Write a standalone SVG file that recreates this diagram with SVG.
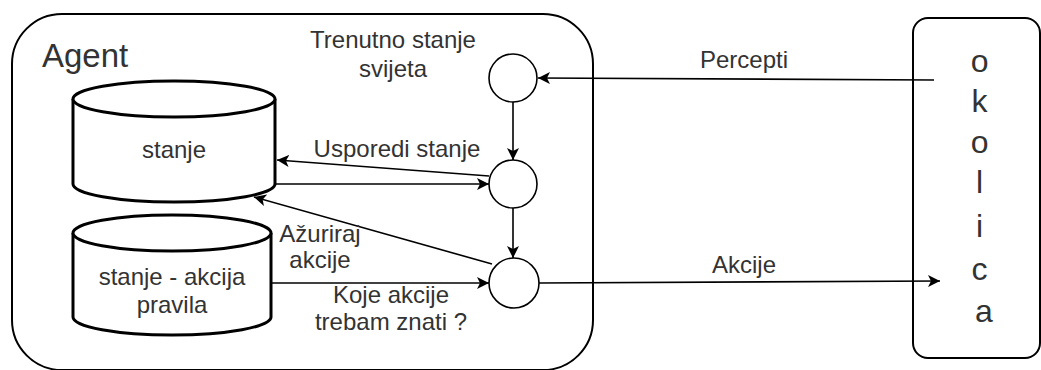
<svg xmlns="http://www.w3.org/2000/svg" width="1041" height="370" viewBox="0 0 1041 370">
<style>
.box{fill:#fff;stroke:#000;stroke-width:2}
.cyl{fill:#fff;stroke:#000;stroke-width:3}
.circ{fill:#fff;stroke:#000;stroke-width:1.6}
.edge{fill:none;stroke:#000;stroke-width:1.6}
.t{font-family:"Liberation Sans",Arial,sans-serif;fill:#333;font-size:24px;text-anchor:middle}
</style>
<defs>
<marker id="ah" markerUnits="userSpaceOnUse" markerWidth="14" markerHeight="12" refX="12" refY="6" orient="auto">
<path d="M0,0 L12,6 L0,12 L3,6 Z" fill="#000"/>
</marker>
</defs>
<rect width="1041" height="370" fill="#fff"/>
<g id="agent">
<rect class="box" x="12" y="14" width="581" height="356" rx="50" ry="50"/>
<text class="t" x="42" y="67" style="font-size:33px;text-anchor:start">Agent</text>
</g>
<g id="okolica">
<rect class="box" x="913" y="18" width="127" height="340" rx="15" ry="15"/>
<text class="t" style="font-size:32px">
<tspan x="984" y="72">o</tspan>
<tspan x="984" y="112">k</tspan>
<tspan x="984" y="153">o</tspan>
<tspan x="984" y="193">l</tspan>
<tspan x="984" y="237">i</tspan>
<tspan x="984" y="280">c</tspan>
<tspan x="984" y="322">a</tspan>
</text>
</g>
<g id="stanje">
<path class="cyl" d="M73,99 A101,18 0 0 1 275,99 L275,184 A101,18 0 0 1 73,184 Z"/>
<path class="cyl" d="M73,99 A101,18 0 0 0 275,99"/>
<text class="t" x="174" y="158">stanje</text>
</g>
<g id="pravila">
<path class="cyl" d="M73,233 A99,18 0 0 1 271,233 L271,317 A99,18 0 0 1 73,317 Z"/>
<path class="cyl" d="M73,233 A99,18 0 0 0 271,233"/>
<text class="t" x="172" y="285">stanje - akcija</text>
<text class="t" x="172" y="313">pravila</text>
</g>
<g id="c1">
<circle class="circ" cx="513" cy="78" r="24"/>
</g>
<g id="c2">
<circle class="circ" cx="513" cy="184" r="24"/>
</g>
<g id="c3">
<circle class="circ" cx="514" cy="283" r="25"/>
</g>
<g id="connectors">
<path class="edge" d="M934,80 L538,78" marker-end="url(#ah)"/>
<path class="edge" d="M513,102 L513,160" marker-end="url(#ah)"/>
<path class="edge" d="M489,176 L277,160" marker-end="url(#ah)"/>
<path class="edge" d="M275,184 L489,184" marker-end="url(#ah)"/>
<path class="edge" d="M513,208 L513,258" marker-end="url(#ah)"/>
<path class="edge" d="M492,264 L254,197" marker-end="url(#ah)"/>
<path class="edge" d="M271,283 L489,283" marker-end="url(#ah)"/>
<path class="edge" d="M539,283 L940,281" marker-end="url(#ah)"/>
</g>
<g id="labels">
<text class="t" x="393" y="48">Trenutno stanje</text>
<text class="t" x="393" y="77">svijeta</text>
<text class="t" x="744" y="68">Percepti</text>
<text class="t" x="397" y="157">Usporedi stanje</text>
<text class="t" x="320" y="242">Ažuriraj</text>
<text class="t" x="320" y="268">akcije</text>
<text class="t" x="391" y="303">Koje akcije</text>
<text class="t" x="391" y="330">trebam znati ?</text>
<text class="t" x="744" y="273">Akcije</text>
</g>
</svg>
